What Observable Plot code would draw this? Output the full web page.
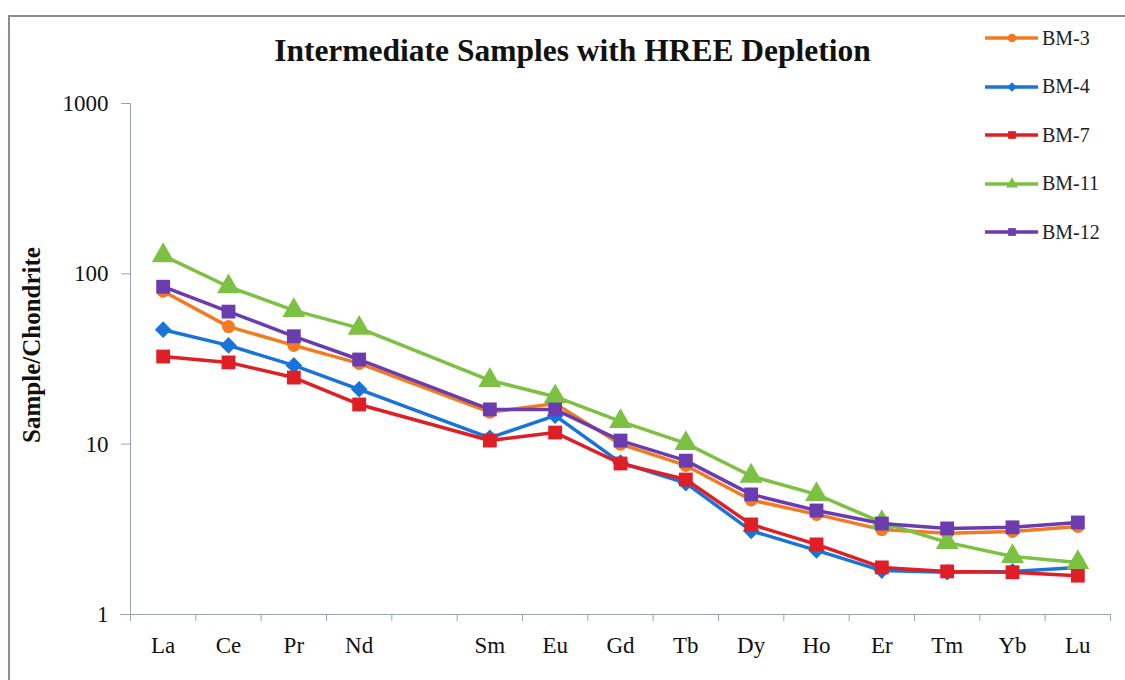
<!DOCTYPE html>
<html>
<head>
<meta charset="utf-8">
<script src="https://cdn.jsdelivr.net/npm/d3@7"></script>
<script src="https://cdn.jsdelivr.net/npm/@observablehq/plot@0.6"></script>
<style>
  html, body { margin: 0; padding: 0; background: #fff; }
  #wrap { position: relative; width: 1125px; height: 680px; overflow: hidden; font-family: "Liberation Serif", "DejaVu Serif", serif; }
  #frame { position: absolute; left: 8px; top: 15px; width: 1140px; height: 700px; border-left: 2px solid #8a8d96; border-top: 2px solid #8a8d96; box-sizing: border-box; }
  #title { position: absolute; left: 0; top: 31px; width: 1145px; text-align: center; font-weight: bold; font-size: 31.5px; line-height: 40px; color: #111; }
  #ylabel { position: absolute; left: 32px; top: 345px; transform: translate(-50%, -50%) rotate(-90deg); font-weight: bold; font-size: 25px; color: #111; white-space: nowrap; }
  #chart { position: absolute; left: 0; top: 0; }
  #legend { position: absolute; left: 982px; top: 14px; }
  .item { display: flex; align-items: center; height: 48.5px; }
  .item span { font-size: 20px; color: #222; margin-left: 2px; }
</style>
</head>
<body>
<div id="wrap">
  <div id="frame"></div>
  <div id="chart"></div>
  <div id="title">Intermediate Samples with HREE Depletion</div>
  <div id="ylabel">Sample/Chondrite</div>
  <div id="legend"></div>
</div>
<script>
// Category slots (Pm is an empty slot with no data and no label)
const elements = ["La","Ce","Pr","Nd","Pm","Sm","Eu","Gd","Tb","Dy","Ho","Er","Tm","Yb","Lu"];
const elementLabels = ["La","Ce","Pr","Nd","","Sm","Eu","Gd","Tb","Dy","Ho","Er","Tm","Yb","Lu"];
const yTicks = [1, 10, 100, 1000];

const samples = ["BM-3","BM-4","BM-7","BM-11","BM-12"];
const colors  = ["#f27b21","#1874d8","#df1f26","#7dc143","#6a3cae"];
const symbols = ["circle","diamond2","square","triangle","square"];

const bm3  = [79, 49, 38, 29.8, null, 15.4, 17.3, 10.0, 7.5, 4.7, 3.87, 3.15, 3.0, 3.07, 3.29];
const bm4  = [47, 38, 29, 21, null, 10.9, 14.7, 7.8, 5.9, 3.1, 2.38, 1.81, 1.77, 1.79, 1.89];
const bm7  = [32.7, 30.2, 24.6, 17.1, null, 10.5, 11.7, 7.7, 6.2, 3.38, 2.58, 1.89, 1.79, 1.77, 1.69];
const bm11 = [128, 84, 61, 48, null, 23.7, 19, 13.6, 10.1, 6.5, 5.07, 3.47, 2.65, 2.19, 2.02];
const bm12 = [84, 60, 43, 31.4, null, 16, 16, 10.5, 8.0, 5.07, 4.08, 3.42, 3.2, 3.25, 3.47];
const seriesValues = [bm3, bm4, bm7, bm11, bm12];

const data = [];
samples.forEach((s, si) => {
  seriesValues[si].forEach((v, i) => {
    if (v != null) data.push({sample: s, idx: i + 0.5, el: elements[i], value: v, si});
  });
});

const centers = elements.map((e, i) => i + 0.5);
const bounds = d3.range(elements.length + 1);
const axisColor = "#9aa3b5";

const marks = [
  Plot.axisY({ticks: yTicks, tickFormat: d => String(d), tickSize: 9, stroke: axisColor,
    fontSize: 23, tickPadding: 13, label: null, fill: "#111", textStroke: "none"}),
  Plot.ruleX([0], {stroke: axisColor, strokeWidth: 1}),
  Plot.ruleY([1], {x1: -0.15, x2: elements.length, stroke: axisColor, strokeWidth: 1}),
  Plot.axisX({ticks: bounds, tickFormat: () => "", tickSize: 7, stroke: axisColor, label: null}),
  Plot.axisX({ticks: centers, tickFormat: (d) => elementLabels[Math.floor(d)], tickSize: 0,
    tickPadding: 22, fontSize: 23, fill: "#111", label: null})
];
samples.forEach((s, si) => {
  const rows = data.filter(d => d.sample === s);
  marks.push(Plot.line(rows, {x: "idx", y: "value", stroke: colors[si], strokeWidth: 3.5}));
  const r = symbols[si] === "circle" ? 6.5 : symbols[si] === "diamond2" ? 7.5 : symbols[si] === "triangle" ? 8.5 : 7.8;
  marks.push(Plot.dot(rows, {x: "idx", y: "value", symbol: () => symbols[si], fill: colors[si], stroke: "none", r}));
});

const chart = Plot.plot({
  width: 1125,
  height: 680,
  marginLeft: 130,
  marginRight: 15,
  marginTop: 103,
  marginBottom: 66,
  style: {fontFamily: "'Liberation Serif', serif", background: "transparent", overflow: "visible"},
  x: {type: "linear", domain: [0, elements.length]},
  y: {type: "log", domain: [1, 1000]},
  symbol: {type: "identity"},
  marks
});
document.getElementById("chart").appendChild(chart);

// Legend
const legend = document.getElementById("legend");
samples.forEach((s, si) => {
  const item = document.createElement("div");
  item.className = "item";
  const svg = d3.create("svg").attr("width", 58).attr("height", 16);
  svg.append("line").attr("x1", 3).attr("x2", 56).attr("y1", 8).attr("y2", 8)
    .attr("stroke", colors[si]).attr("stroke-width", 3.5);
  const sym = {circle: d3.symbolCircle, diamond2: d3.symbolDiamond2, square: d3.symbolSquare, triangle: d3.symbolTriangle}[symbols[si]];
  svg.append("path").attr("d", d3.symbol(sym, 60)).attr("transform", "translate(30,8)").attr("fill", colors[si]);
  item.appendChild(svg.node());
  const t = document.createElement("span");
  t.textContent = s;
  item.appendChild(t);
  legend.appendChild(item);
});
</script>
</body>
</html>
